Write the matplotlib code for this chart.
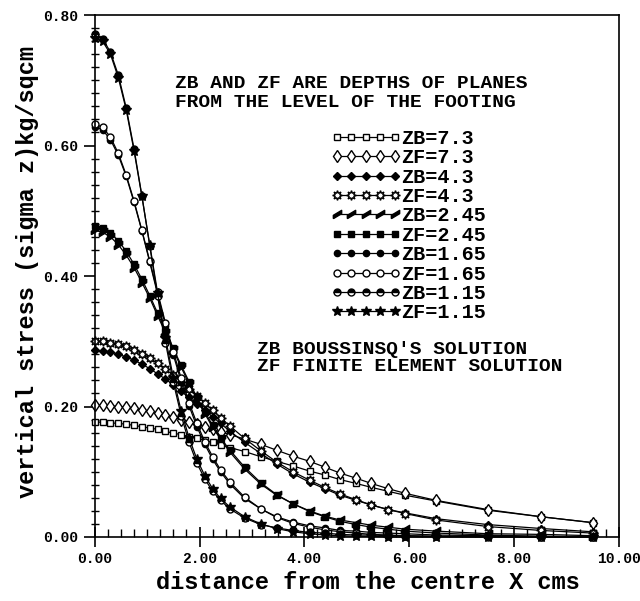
import matplotlib
matplotlib.use("Agg")
import matplotlib.pyplot as plt
from matplotlib.ticker import MultipleLocator, FormatStrFormatter

# distance from the centre of the strip footing (cm)
x_cm = [0.00, 0.15, 0.30, 0.45, 0.60, 0.75, 0.90, 1.05, 1.20, 1.35, 1.50,
        1.65, 1.80, 1.95, 2.10, 2.25, 2.40, 2.58, 2.86, 3.17, 3.47, 3.78,
        4.10, 4.39, 4.68, 4.99, 5.28, 5.60, 5.92, 6.52, 7.50, 8.52, 9.50]

# vertical stress (kg/sqcm) on planes below the footing
# ZB = Boussinesq, ZF = finite element
zb_7_3 = [0.176, 0.176, 0.175, 0.174, 0.173, 0.171, 0.169, 0.167, 0.165, 0.162, 0.159,
          0.157, 0.154, 0.151, 0.148, 0.145, 0.141, 0.137, 0.131, 0.123, 0.116, 0.109,
          0.101, 0.095, 0.088, 0.082, 0.076, 0.070, 0.064, 0.055, 0.041, 0.031, 0.022]
zf_7_3 = [0.202, 0.202, 0.201, 0.200, 0.199, 0.197, 0.195, 0.193, 0.190, 0.187, 0.184,
          0.180, 0.177, 0.173, 0.169, 0.165, 0.161, 0.157, 0.150, 0.142, 0.133, 0.124,
          0.116, 0.107, 0.098, 0.090, 0.082, 0.074, 0.067, 0.056, 0.042, 0.031, 0.022]
zb_4_3 = [0.286, 0.285, 0.284, 0.280, 0.276, 0.271, 0.265, 0.258, 0.250, 0.242, 0.233,
          0.223, 0.214, 0.204, 0.194, 0.184, 0.174, 0.162, 0.145, 0.128, 0.112, 0.097,
          0.084, 0.074, 0.064, 0.056, 0.049, 0.042, 0.037, 0.028, 0.019, 0.013, 0.008]
zf_4_3 = [0.300, 0.300, 0.298, 0.296, 0.292, 0.287, 0.281, 0.274, 0.266, 0.257, 0.248,
          0.238, 0.227, 0.216, 0.205, 0.194, 0.183, 0.170, 0.151, 0.132, 0.115, 0.100,
          0.087, 0.076, 0.066, 0.057, 0.049, 0.042, 0.036, 0.026, 0.016, 0.010, 0.006]
zb_2_45 = [0.470, 0.467, 0.460, 0.448, 0.432, 0.413, 0.390, 0.366, 0.339, 0.313, 0.286,
           0.260, 0.235, 0.211, 0.189, 0.168, 0.150, 0.130, 0.104, 0.081, 0.064, 0.051,
           0.040, 0.032, 0.026, 0.022, 0.018, 0.015, 0.012, 0.009, 0.005, 0.004, 0.002]
zf_2_45 = [0.476, 0.473, 0.466, 0.454, 0.438, 0.418, 0.395, 0.370, 0.343, 0.316, 0.289,
           0.263, 0.238, 0.214, 0.192, 0.171, 0.152, 0.133, 0.107, 0.083, 0.065, 0.051,
           0.039, 0.031, 0.024, 0.019, 0.015, 0.012, 0.009, 0.006, 0.003, 0.001, 0.000]
zb_1_65 = [0.629, 0.624, 0.609, 0.585, 0.553, 0.513, 0.469, 0.421, 0.372, 0.324, 0.279,
           0.238, 0.201, 0.169, 0.142, 0.119, 0.100, 0.081, 0.059, 0.043, 0.031, 0.023,
           0.017, 0.014, 0.010, 0.009, 0.007, 0.006, 0.005, 0.003, 0.002, 0.001, 0.001]
zf_1_65 = [0.633, 0.628, 0.613, 0.588, 0.555, 0.515, 0.470, 0.423, 0.375, 0.328, 0.284,
           0.243, 0.206, 0.174, 0.146, 0.123, 0.103, 0.084, 0.061, 0.043, 0.030, 0.021,
           0.015, 0.011, 0.008, 0.006, 0.004, 0.003, 0.002, 0.001, 0.000, 0.000, 0.000]
zb_1_15 = [0.771, 0.764, 0.743, 0.708, 0.658, 0.595, 0.523, 0.446, 0.369, 0.298, 0.237,
           0.186, 0.145, 0.113, 0.089, 0.070, 0.056, 0.043, 0.029, 0.019, 0.014, 0.010,
           0.007, 0.006, 0.004, 0.003, 0.003, 0.002, 0.002, 0.001, 0.001, 0.000, 0.000]
zf_1_15 = [0.765, 0.760, 0.740, 0.704, 0.655, 0.592, 0.522, 0.448, 0.374, 0.305, 0.244,
           0.193, 0.152, 0.119, 0.094, 0.074, 0.059, 0.046, 0.031, 0.020, 0.013, 0.008,
           0.005, 0.003, 0.002, 0.001, 0.001, 0.000, 0.000, 0.000, 0.000, 0.000, 0.000]

labels = ["ZB=7.3", "ZF=7.3", "ZB=4.3", "ZF=4.3", "ZB=2.45",
          "ZF=2.45", "ZB=1.65", "ZF=1.65", "ZB=1.15", "ZF=1.15"]
curves = [zb_7_3, zf_7_3, zb_4_3, zf_4_3, zb_2_45,
          zf_2_45, zb_1_65, zf_1_65, zb_1_15, zf_1_15]

# slanted filled wedge used for ZB=2.45
wedge = [(-1, -1), (1, 0.2), (1, 1), (-1, -0.2), (-1, -1)]

styles = [
    dict(marker='s', mfc='white', ms=5),
    dict(marker='d', mfc='white', ms=6),
    dict(marker='D', mfc='black', ms=4.5),
    dict(marker=(8, 1, 0), mfc='white', ms=7),
    dict(marker=wedge, mfc='black', ms=6),
    dict(marker='s', mfc='black', ms=4.5),
    dict(marker='o', mfc='black', ms=4.5),
    dict(marker='o', mfc='white', ms=5),
    dict(marker='o', fillstyle='top', mfc='black', mfcalt='white', ms=5),
    dict(marker='*', mfc='black', ms=7),
]

mono = 'Liberation Mono'
fig = plt.figure(figsize=(6.4, 6.01), dpi=100)
ax = fig.add_axes([0.148, 0.1065, 0.819, 0.8685])

handles = []
for lab, ys, st in zip(labels, curves, styles):
    h, = ax.plot(x_cm, ys, color='black', lw=0.9, mec='black', mew=1.0,
                 label=lab, clip_on=False, **st)
    handles.append(h)

ax.set_xlim(0, 10)
ax.set_ylim(0, 0.8)

ax.xaxis.set_major_locator(MultipleLocator(2))
ax.xaxis.set_minor_locator(MultipleLocator(0.25))
ax.yaxis.set_major_locator(MultipleLocator(0.2))
ax.yaxis.set_minor_locator(MultipleLocator(0.02))
ax.xaxis.set_major_formatter(FormatStrFormatter('%.2f'))
ax.yaxis.set_major_formatter(FormatStrFormatter('%.2f'))

ax.tick_params(axis='x', which='major', direction='inout', length=14, width=1.2, pad=4)
ax.tick_params(axis='x', which='minor', direction='in', length=6, width=1.0)
ax.tick_params(axis='y', which='major', direction='out', length=8, width=1.2, pad=4)
ax.tick_params(axis='y', which='minor', direction='inout', length=6, width=1.0)
for lbl in ax.get_xticklabels() + ax.get_yticklabels():
    lbl.set_family(mono)
    lbl.set_weight('bold')
    lbl.set_fontsize(10.5)

for sp in ax.spines.values():
    sp.set_linewidth(1.2)

ax.set_xlabel("distance from the centre X cms", family=mono, weight='bold', fontsize=17)
ax.set_ylabel("vertical stress (sigma z)kg/sqcm", family=mono, weight='bold', fontsize=17)
ax.xaxis.set_label_coords(0.521, -0.088)
ax.xaxis.label.set_verticalalignment('center')
ax.yaxis.set_label_coords(-0.128, 0.507)
ax.yaxis.label.set_verticalalignment('center')

note = dict(family=mono, weight='bold', fontsize=14, transform=ax.transAxes,
            ha='left', va='center')
ax.text(0.153, 0.868, "ZB AND ZF ARE DEPTHS OF PLANES", **note)
ax.text(0.153, 0.832, "FROM THE LEVEL OF THE FOOTING", **note)
ax.text(0.309, 0.360, "ZB BOUSSINSQ'S SOLUTION", **note)
ax.text(0.309, 0.326, "ZF FINITE ELEMENT SOLUTION", **note)

ax.legend(handles=handles, loc='upper left', bbox_to_anchor=(0.450, 0.782),
          frameon=False, numpoints=5, handlelength=3.49, handletextpad=0.0,
          labelspacing=0.02, borderpad=0, borderaxespad=0,
          prop=dict(family=mono, weight='bold', size=14.5))

fig.savefig("out.png", dpi=100)
